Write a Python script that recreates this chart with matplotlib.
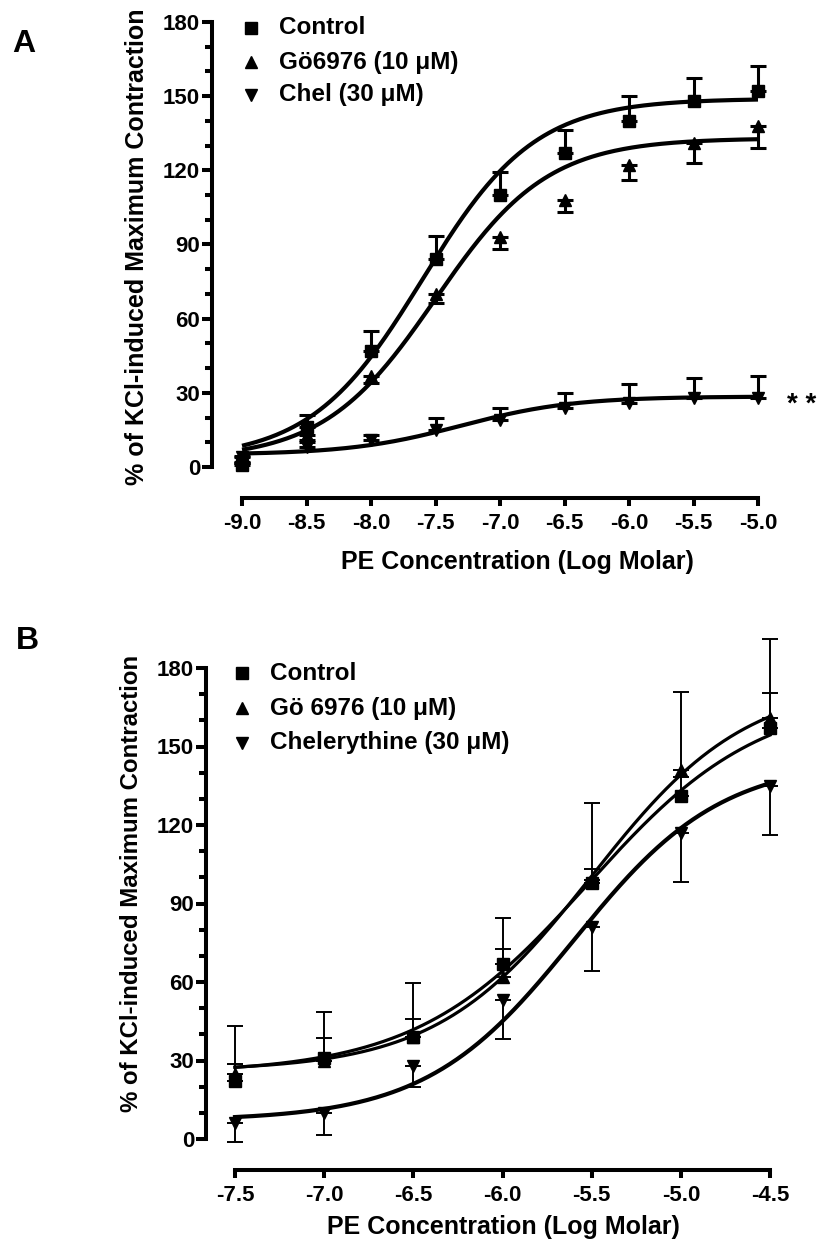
import numpy as np
import matplotlib
matplotlib.use("Agg")
import matplotlib.pyplot as plt
from matplotlib.ticker import MultipleLocator

# ---------------- data ----------------
A_x = [-9.0, -8.5, -8.0, -7.5, -7.0, -6.5, -6.0, -5.5, -5.0]
A_control = [1, 16, 47, 84, 110, 127, 140, 148, 152]
A_control_sem = [0.5, 5, 8, 9.5, 9.5, 9.5, 10, 9.5, 10]
A_go = [2, 13, 37, 70, 93, 108, 122, 131, 138]
A_go_sem = [0.5, 2, 3, 3.5, 5, 5, 6, 8, 9]
A_chel = [4, 8, 11, 15, 19, 24, 26, 28, 28]
A_chel_sem = [0.5, 2, 2, 5, 5, 6, 7.5, 8, 9]
# sigmoid fit parameters: bottom, top, logEC50, hill slope
A_fit_control = [3, 149, -7.6, 1.0]
A_fit_go = [3, 133, -7.5, 1.0]
A_fit_chel = [5, 28.5, -7.3, 1.0]
A_xticks = [-9.0, -8.5, -8.0, -7.5, -7.0, -6.5, -6.0, -5.5, -5.0]

B_x = [-7.5, -7.0, -6.5, -6.0, -5.5, -5.0, -4.5]
B_control = [22, 31, 39, 67, 98, 131, 157]
B_control_sem = [21, 17.5, 20.5, 17.5, 30.5, 7.5, 13.5]
B_go = [25, 30, 39, 62, 99, 141, 161]
B_go_sem = [3.5, 8.5, 7, 10.5, 4, 30, 30]
B_chel = [6, 10, 28, 53, 81, 117, 135]
B_chel_sem = [7, 8.3, 8, 14.6, 16.8, 18.7, 19]
B_fit_control = [25, 170, -5.52, 0.9]
B_fit_go = [26, 175, -5.5, 1.0]
B_fit_chel = [7, 145, -5.6, 1.05]
B_xticks = [-7.5, -7.0, -6.5, -6.0, -5.5, -5.0, -4.5]

y_ticks = [0, 30, 60, 90, 120, 150, 180]
legend_A = ["Control", "Gö6976 (10 \u03bcM)", "Chel (30 \u03bcM)"]
legend_B = ["Control", "Gö 6976 (10 \u03bcM)", "Chelerythine (30 \u03bcM)"]
ylabel_text = "% of KCl-induced Maximum Contraction"
xlabel_text = "PE Concentration (Log Molar)"

# ---------------- figure ----------------
W, H = 828, 1247
plt.rcParams["font.family"] = ["Liberation Sans", "DejaVu Sans"]
plt.rcParams["font.weight"] = "bold"
fig = plt.figure(figsize=(W / 100, H / 100), dpi=100)
fig.patch.set_facecolor("white")


def px(x, y):
    return x / W, 1 - y / H


def rect(l, r, t, b):
    return [l / W, 1 - b / H, (r - l) / W, (b - t) / H]


def sigmoid(x, p):
    b, t, ec, h = p
    return b + (t - b) / (1 + 10 ** ((ec - x) * h))


def style_axes(ax, xlim, xticks, off_left, off_bottom, spine_lw):
    ax.set_xlim(xlim)
    ax.set_ylim(0, 180)
    for s in ["top", "right"]:
        ax.spines[s].set_visible(False)
    ax.spines["left"].set_position(("outward", off_left))
    ax.spines["bottom"].set_position(("outward", off_bottom))
    ax.spines["left"].set_bounds(0, 180)
    ax.spines["bottom"].set_bounds(xlim[0], xlim[1])
    for s in ["left", "bottom"]:
        ax.spines[s].set_linewidth(spine_lw)
        ax.spines[s].set_capstyle("projecting")
    ax.set_yticks(y_ticks)
    ax.yaxis.set_minor_locator(MultipleLocator(10))
    ax.set_xticks(xticks)
    ax.set_xticklabels([f"{v:.1f}" for v in xticks])
    ax.tick_params(axis="y", which="major", length=7, width=spine_lw, pad=1.5,
                   labelsize=16, direction="out")
    ax.tick_params(axis="y", which="minor", length=5, width=spine_lw, direction="out")
    ax.tick_params(axis="x", which="major", length=5.5, width=spine_lw, pad=5,
                   labelsize=16, direction="out")
    for lab in ax.get_xticklabels() + ax.get_yticklabels():
        lab.set_fontweight("bold")
    ax.patch.set_alpha(0)


# ---------------- panel A ----------------
axA = fig.add_axes(rect(242, 758, 22, 467))
style_axes(axA, (-9.0, -5.0), A_xticks, 21.6, 22.3, 2.9)
xa = np.linspace(-9.0, -5.0, 300)
for p in [A_fit_control, A_fit_go, A_fit_chel]:
    axA.plot(xa, sigmoid(xa, p), color="black", lw=3.0, clip_on=False, zorder=2,
             solid_capstyle="butt")
zero = [0] * len(A_x)
axA.errorbar(A_x, A_control, yerr=[zero, A_control_sem], fmt="none", ecolor="black",
             elinewidth=2.2, capsize=5.5, capthick=2.2, clip_on=False, zorder=3)
axA.errorbar(A_x, A_go, yerr=[A_go_sem, zero], fmt="none", ecolor="black",
             elinewidth=2.2, capsize=5.5, capthick=2.2, clip_on=False, zorder=3)
axA.errorbar(A_x, A_chel, yerr=[zero, A_chel_sem], fmt="none", ecolor="black",
             elinewidth=2.2, capsize=5.5, capthick=2.2, clip_on=False, zorder=3)
axA.plot(A_x, A_control, "s", color="black", ms=8.5, ls="none", clip_on=False, zorder=4)
axA.plot(A_x, A_go, "^", color="black", ms=9, ls="none", clip_on=False, zorder=4)
axA.plot(A_x, A_chel, "v", color="black", ms=9, ls="none", clip_on=False, zorder=4)

# ---------------- panel B ----------------
axB = fig.add_axes(rect(235, 770, 668, 1139))
style_axes(axB, (-7.5, -4.5), B_xticks, 20.9, 22.3, 2.9)
xb = np.linspace(-7.5, -4.5, 300)
axB.plot(xb, sigmoid(xb, B_fit_control), color="black", lw=2.3, clip_on=False, zorder=2)
axB.plot(xb, sigmoid(xb, B_fit_go), color="black", lw=2.3, clip_on=False, zorder=2)
axB.plot(xb, sigmoid(xb, B_fit_chel), color="black", lw=3.0, clip_on=False, zorder=2)
zb = [0] * len(B_x)
for vals, sem, up in [(B_control, B_control_sem, True), (B_go, B_go_sem, True),
                      (B_chel, B_chel_sem, False)]:
    yerr = [zb, sem] if up else [sem, zb]
    axB.errorbar(B_x, vals, yerr=yerr, fmt="none", ecolor="black", elinewidth=1.4,
                 capsize=5.5, capthick=1.4, clip_on=False, zorder=3)
axB.plot(B_x, B_control, "s", color="black", ms=8.5, ls="none", clip_on=False, zorder=4)
axB.plot(B_x, B_go, "^", color="black", ms=9, ls="none", clip_on=False, zorder=4)
axB.plot(B_x, B_chel, "v", color="black", ms=9, ls="none", clip_on=False, zorder=4)

# ---------------- texts ----------------
fig.text(*px(24, 44), "A", fontsize=23, fontweight="bold", ha="center", va="center")
fig.text(*px(27, 641), "B", fontsize=23, fontweight="bold", ha="center", va="center")
fig.text(*px(137, 247), ylabel_text, rotation=90, fontsize=18, fontweight="bold",
         ha="center", va="center")
fig.text(*px(131, 883), ylabel_text, rotation=90, fontsize=17.3, fontweight="bold",
         ha="center", va="center")
fig.text(*px(517, 562), xlabel_text, fontsize=18, fontweight="bold", ha="center", va="center")
fig.text(*px(503, 1227), xlabel_text, fontsize=18, fontweight="bold", ha="center", va="center")
fig.text(*px(802, 405), "* *", fontsize=20, fontweight="bold", ha="center", va="center")

markers = ["s", "^", "v"]
msz = [8.5, 9, 9]
for (mx, tx, rows, labels) in [(251, 279, [28, 62, 95], legend_A),
                               (242, 270, [673, 708, 743], legend_B)]:
    for mk, ms, ry, lab in zip(markers, msz, rows, labels):
        fig.lines.append(plt.Line2D([mx / W], [1 - ry / H], marker=mk, ms=ms, color="black",
                                    ls="none", transform=fig.transFigure))
        fig.text(tx / W, 1 - ry / H, lab, fontsize=17.5, fontweight="bold",
                 ha="left", va="center")

fig.savefig("out.png", dpi=100, facecolor="white")
